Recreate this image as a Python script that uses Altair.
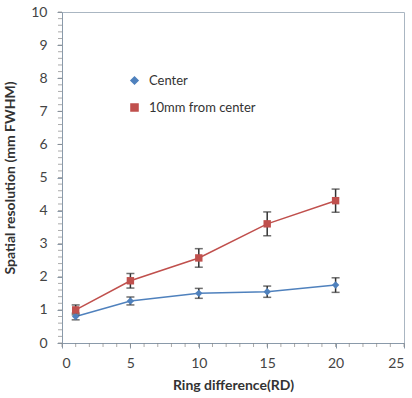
import altair as alt
import pandas as pd

rd = [1, 5, 10, 15, 20]
center = [0.8, 1.27, 1.5, 1.55, 1.75]
center_err = [0.1, 0.12, 0.15, 0.17, 0.22]
off = [1.0, 1.88, 2.57, 3.6, 4.3]
off_err = [0.15, 0.22, 0.28, 0.36, 0.35]
series_names = ["Center", "10mm from center"]
y_ticks = list(range(0, 11))
x_ticks = [0, 5, 10, 15, 20, 25]
y_minor = [round(i * 0.2, 1) for i in range(51)]
x_minor = list(range(0, 26))

rows = []
for name, vals, errs in [(series_names[0], center, center_err), (series_names[1], off, off_err)]:
    for x, v, e in zip(rd, vals, errs):
        rows.append({"rd": x, "val": v, "lo": v - e, "hi": v + e, "series": name})
df = pd.DataFrame(rows)

FONT = "Lato"
xs = alt.Scale(domain=[0, 25], nice=False)
ys = alt.Scale(domain=[0, 10], nice=False)
color = alt.Color("series:N", scale=alt.Scale(domain=series_names, range=["#4F81BD", "#C0504D"]),
                  legend=alt.Legend(title=None, orient="none", legendX=66, legendY=62,
                                    labelFont=FONT, labelFontSize=13, labelColor="#333333",
                                    rowPadding=12, symbolSize=50, symbolStrokeWidth=1.5, labelOffset=8))
shape = alt.Shape("series:N", scale=alt.Scale(domain=series_names, range=["diamond", "square"]), legend=None)

x_axis = alt.Axis(values=x_ticks, title="Ring difference(RD)", grid=False, labelOverlap=False,
                  labelFont=FONT, labelFontSize=14, labelColor="#444444",
                  titleFont=FONT, titleFontSize=14, titleFontWeight="bold",
                  titleColor="#333333", domainColor="#8a9aaa", tickColor="#8a9aaa",
                  tickSize=5, labelPadding=8, titlePadding=8)
y_axis = alt.Axis(values=y_ticks, title="Spatial resolution (mm FWHM)", grid=False, labelOverlap=False,
                  labelFont=FONT, labelFontSize=14, labelColor="#444444",
                  titleFont=FONT, titleFontSize=14, titleFontWeight="bold",
                  titleColor="#333333", domainColor="#8a9aaa", tickColor="#8a9aaa",
                  tickSize=5, labelPadding=10, titlePadding=13)

base = alt.Chart(df)

ymin = alt.Chart(pd.DataFrame({"v": y_minor})).mark_tick(
    orient="horizontal", size=4, thickness=1, color="#888888", clip=False
).encode(y=alt.Y("v:Q", scale=ys, axis=y_axis), x=alt.value(-2))

xmin = alt.Chart(pd.DataFrame({"v": x_minor})).mark_tick(
    orient="vertical", size=4, thickness=1, color="#888888", clip=False
).encode(x=alt.X("v:Q", scale=xs, axis=x_axis), y=alt.value(333))

lines = base.mark_line(strokeWidth=1.5).encode(
    x=alt.X("rd:Q", scale=xs, axis=x_axis),
    y=alt.Y("val:Q", scale=ys, axis=y_axis),
    color=color,
    detail="series:N",
)

errs = base.mark_errorbar(ticks=alt.MarkConfig(size=8), color="#333333", thickness=1.5).encode(
    x=alt.X("rd:Q", scale=xs, axis=x_axis),
    y=alt.Y("lo:Q", scale=ys, axis=y_axis),
    y2="hi:Q",
)

points = base.mark_point(filled=True, size=55, opacity=1).encode(
    x=alt.X("rd:Q", scale=xs, axis=x_axis),
    y=alt.Y("val:Q", scale=ys, axis=y_axis),
    color=color,
    shape=shape,
)

chart = alt.layer(lines, errs, points, ymin, xmin).properties(
    width=342, height=331,
    padding={"left": 62, "top": 12, "right": 8, "bottom": 55},
    autosize=alt.AutoSizeParams(type="none"),
    background="white",
).configure_view(stroke="#aab6c2", strokeWidth=1)

chart.save("out.html", embed_options={"renderer": "svg", "actions": False})
